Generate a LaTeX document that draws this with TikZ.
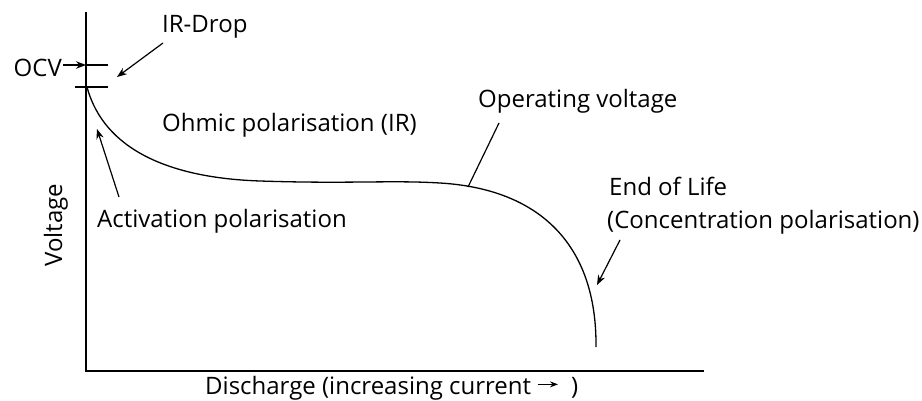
\documentclass[tikz,border=0pt]{standalone}
\usepackage{fontspec}
\setmainfont{Open Sans}
\usetikzlibrary{arrows.meta}
\begin{document}
\begin{tikzpicture}[x=1pt,y=-1pt,
  lbl/.style={inner sep=0pt,font=\fontsize{24}{28}\selectfont},
  ax/.style={line width=1.3pt},
  lead/.style={line width=1.2pt},
  arr/.style={line width=1.2pt,-{Stealth[length=10pt,width=7.5pt]}}]
\useasboundingbox (0,0) rectangle (922,401);
% axes
\coordinate (top) at (86,12);
\coordinate (orig) at (86,371);
\coordinate (xend) at (704,371);
\draw[ax] (top) -- (orig) -- (xend);
% ticks
\coordinate (ocvL) at (86,65);
\coordinate (ocvR) at (108,65);
\coordinate (irL) at (75,87);
\coordinate (irR) at (108,87);
\draw[lead] (ocvL) -- (ocvR);
\draw[lead] (irL) -- (irR);
% curve
\coordinate (c0) at (87,87);
\coordinate (c1) at (260,181);
\coordinate (c2) at (440,183);
\coordinate (c3) at (596,347);
\draw[line width=1.3pt] (c0) .. controls (104,150) and (170,178) .. (c1)
  .. controls (350,184) and (390,180) .. (c2)
  .. controls (540,189) and (597,245) .. (c3);
% labels
\node[lbl,anchor=base east] (ocv) at (62,77) {OCV};
\coordinate (ocvs) at (63,65);
\draw[arr] (ocvs) -- (ocvL);
\node[lbl,anchor=base west] (ird) at (162,33) {IR-Drop};
\coordinate (irdtip) at (117,77);
\coordinate (irdst) at (163,43);
\draw[arr] (irdst) -- (irdtip);
\node[lbl,anchor=base west] (ohm) at (162,132) {Ohmic polarisation (IR)};
\node[lbl,anchor=base west] (act) at (97,228) {Activation polarisation};
\coordinate (actst) at (119,197);
\coordinate (acttip) at (97,129);
\draw[arr] (actst) -- (acttip);
\node[lbl,anchor=base west] (op) at (478,108) {Operating voltage};
\coordinate (opst) at (499,123);
\coordinate (opend) at (468,187);
\draw[lead] (opst) -- (opend);
\node[lbl,anchor=base west] (eol1) at (609,196) {End of Life};
\node[lbl,anchor=base west] (eol2) at (607,229) {(Concentration polarisation)};
\coordinate (eolst) at (620,240);
\coordinate (eoltip) at (597,285);
\draw[arr] (eolst) -- (eoltip);
\node[lbl,rotate=90,anchor=base] (volt) at (62,225) {Voltage};
\node[lbl,anchor=base west] (dis) at (205,394) {Discharge (increasing current \tikz[baseline=-0.75ex]\draw[line width=1.2pt,-{Stealth[length=8pt,width=6pt]}] (0,0) -- (20,0);\ \ )};
\end{tikzpicture}
\end{document}
